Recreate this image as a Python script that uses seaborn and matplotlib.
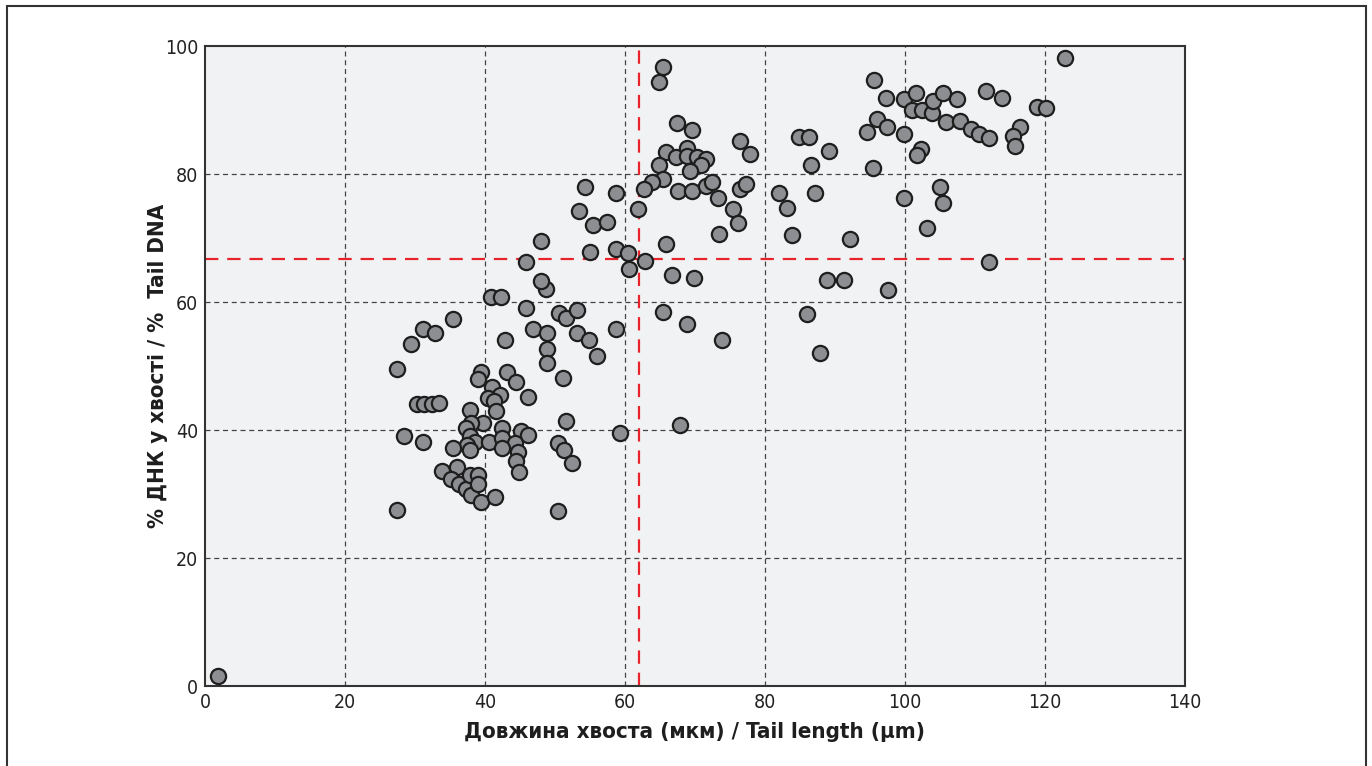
import numpy as np
import pandas as pd
import matplotlib
matplotlib.use('Agg')
import matplotlib.pyplot as plt
from matplotlib.patches import Rectangle
import seaborn as sns

# Comet assay: tail length (um) vs % DNA in tail
tail_length = [
    1.9,
    40.9, 42.3, 45.9, 48.7, 48.0, 50.6, 51.6, 53.2, 53.2, 46.8, 48.8, 48.8, 48.8, 51.1,
    42.8, 35.5, 31.2, 32.9, 29.5, 27.5, 30.3, 31.3, 32.4, 33.5, 39.4, 38.95, 43.1, 44.4,
    41.0, 42.1, 40.4, 41.3, 41.6, 46.2, 37.9, 51.6, 39.7, 38.0, 37.3, 42.4, 45.1, 46.2,
    28.4, 31.2, 37.8, 38.6, 40.6, 42.4, 44.3, 42.4, 37.5, 37.9, 35.5, 44.7, 44.4, 44.9,
    50.4, 51.3, 52.4, 33.9, 36.0, 35.1, 36.3, 37.3, 38.0, 37.8, 39.0, 39.0, 39.4, 41.5,
    27.4, 50.4, 45.9, 48.0, 59.3, 67.9, 56.0,
    65.5, 64.9, 67.5, 69.6, 76.5, 77.8, 65.9, 67.3, 68.9, 68.9, 70.3, 71.6, 70.9, 69.3,
    64.8, 65.5, 63.9, 62.7, 67.6, 69.6, 71.6, 72.4, 73.3, 76.5, 77.3, 75.4, 76.2, 73.4,
    54.3, 58.7, 53.5, 55.5, 57.4, 61.9, 65.9, 55.0, 58.7, 60.5, 60.6, 62.8, 66.7, 69.9,
    54.9, 58.7, 65.4, 68.9, 73.9,
    122.9, 95.6, 97.3, 99.8, 101.6, 101.0, 102.4, 103.8, 104.0, 105.5, 107.4, 111.6, 113.9,
    118.9, 120.1, 96.0, 94.6, 97.5, 99.8, 105.9, 107.8, 109.4, 110.6, 112.0, 116.4, 115.5,
    115.7, 84.9, 86.3, 89.1, 86.6, 102.3, 101.7, 95.5, 82.0, 83.2, 87.2, 83.9, 92.2, 99.9,
    105.0, 105.5, 103.1, 112.0, 88.9, 91.3, 97.6, 86.0, 87.9,
]
tail_dna = [
    1.6,
    60.8, 60.8, 59.1, 62.1, 63.3, 58.3, 57.5, 58.8, 55.2, 55.8, 55.1, 52.7, 50.4, 48.2,
    54.0, 57.4, 55.8, 55.1, 53.5, 49.5, 44.0, 44.0, 44.0, 44.3, 49.0, 48.0, 49.0, 47.5,
    46.8, 45.5, 45.0, 44.5, 43.0, 45.1, 43.1, 41.4, 41.1, 41.1, 40.3, 40.3, 39.8, 39.2,
    39.0, 38.1, 39.0, 38.2, 38.1, 38.7, 38.0, 37.2, 37.7, 36.9, 37.2, 36.5, 35.1, 33.4,
    38.0, 36.9, 34.9, 33.6, 34.2, 32.3, 31.6, 30.8, 29.9, 33.0, 33.0, 31.5, 28.8, 29.6,
    27.5, 27.3, 66.3, 69.6, 39.6, 40.8, 51.6,
    96.7, 94.4, 88.0, 86.9, 85.1, 83.2, 83.4, 82.7, 84.0, 82.8, 82.7, 82.3, 81.4, 80.5,
    81.4, 79.3, 78.7, 77.7, 77.4, 77.4, 78.1, 78.8, 76.2, 77.6, 78.4, 74.5, 72.3, 70.7,
    77.9, 77.0, 74.3, 72.0, 72.5, 74.5, 69.0, 67.8, 68.3, 67.6, 65.2, 66.4, 64.2, 63.8,
    54.0, 55.8, 58.5, 56.5, 54.0,
    98.1, 94.7, 91.9, 91.8, 92.6, 90.0, 90.0, 89.6, 91.4, 92.6, 91.8, 92.9, 91.9,
    90.4, 90.3, 88.6, 86.6, 87.4, 86.2, 88.2, 88.3, 87.0, 86.3, 85.7, 87.4, 86.0,
    84.4, 85.8, 85.8, 83.6, 81.4, 83.9, 82.9, 80.9, 77.0, 74.7, 77.0, 70.5, 69.8, 76.2,
    78.0, 75.4, 71.5, 66.3, 63.4, 63.4, 61.9, 58.1, 52.0,
]
# reference lines (red dashed)
mean_length = 62.0
mean_dna = 66.7

x_ticks = [0, 20, 40, 60, 80, 100, 120, 140]
y_ticks = [0, 20, 40, 60, 80, 100]

df = pd.DataFrame({'length': tail_length, 'dna': tail_dna})

sns.set_style('white', {'axes.facecolor': '#f1f2f4'})
plt.rcParams['font.family'] = ['DejaVu Sans']
plt.rcParams['font.stretch'] = 'condensed'

fig = plt.figure(figsize=(13.72, 7.66), dpi=100)
ax = fig.add_axes([0.1494, 0.1044, 0.7143, 0.8355])

# dashed grid
for xv in x_ticks[1:-1]:
    ax.axvline(xv, color='#444444', lw=0.9, ls=(0, (4, 3)), zorder=1)
for yv in y_ticks[1:-1]:
    ax.axhline(yv, color='#444444', lw=0.9, ls=(0, (4, 3)), zorder=1)

ax.axvline(mean_length, color='#e8232b', lw=1.6, ls=(0, (6, 4)), zorder=2)
ax.axhline(mean_dna, color='#e8232b', lw=1.6, ls=(0, (6, 4)), zorder=2)

sns.scatterplot(data=df, x='length', y='dna', ax=ax, s=120, color='#8d8e92',
                edgecolor='#1e1e1e', linewidth=1.6, zorder=3, legend=False)

ax.set_xlim(0, 140)
ax.set_ylim(0, 100)
ax.set_xticks(x_ticks)
ax.set_yticks(y_ticks)
ax.tick_params(length=0, labelsize=14, colors='#222222', pad=5)
for s in ax.spines.values():
    s.set_color('#333333')
    s.set_linewidth(1.5)

ax.set_xlabel('Довжина хвоста (мкм) / Tail length (μm)', fontsize=16,
              fontweight='bold', color='#1e1e1e', labelpad=7)
ax.set_ylabel('% ДНК у хвості / %  Tail DNA', fontsize=16,
              fontweight='bold', color='#1e1e1e')
ax.yaxis.set_label_coords(-0.038, 0.5)

# outer frame around the figure
fig.patches.append(Rectangle((7 / 1372, -0.02), 1359 / 1372, 1 - 6 / 766 + 0.02,
                             transform=fig.transFigure, fill=False,
                             edgecolor='#333333', lw=1.5))

fig.savefig('out.png', dpi=100)
